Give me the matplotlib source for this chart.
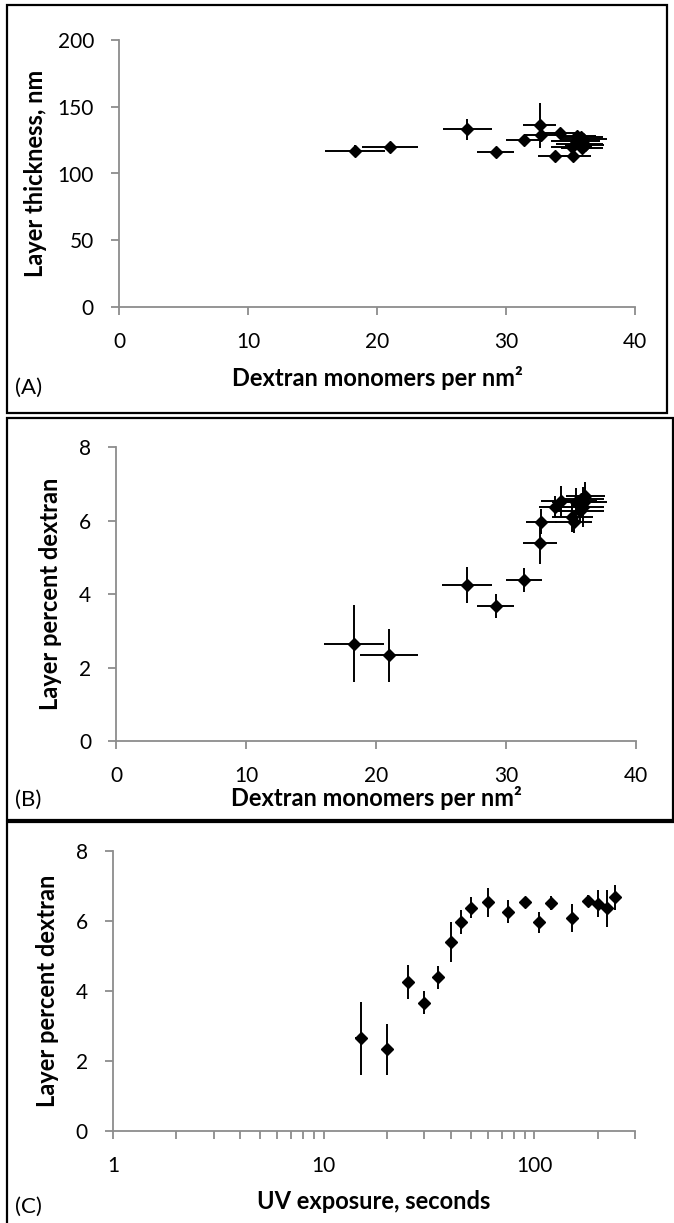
import matplotlib
matplotlib.use("Agg")
import matplotlib.pyplot as plt
from matplotlib.patches import Rectangle
from matplotlib.ticker import LogLocator, NullFormatter, FixedLocator

plt.rcParams['font.family'] = ['Lato', 'DejaVu Sans']

# UV exposure time (s) and the measured layer properties
uv_time = [15, 20, 25, 30, 35, 40, 45, 50, 60, 75, 90, 105, 120, 150, 180, 200, 220, 240]
uv_err = [1] * 18
dextran = [18.3, 21.0, 27.0, 29.2, 31.4, 32.6, 32.7, 33.8, 34.2, 35.7, 35.5, 35.2,
           36.0, 35.1, 35.8, 35.4, 35.9, 36.1]
dextran_err = [2.3, 2.2, 1.9, 1.45, 1.4, 1.3, 1.2, 1.3, 1.5, 1.8, 1.5, 1.4,
               1.8, 1.6, 1.7, 1.9, 1.6, 1.5]
thickness = [117, 120, 133, 116, 125, 136, 129, 113, 130, 122, 128, 113,
             126, 120, 127, 124, 119, 121]
thickness_err = [4, 3, 8, 3, 3, 17, 5, 4, 4, 3, 4, 4, 4, 3, 3, 4, 3, 3]
pct_dextran = [2.65, 2.33, 4.25, 3.67, 4.39, 5.39, 5.97, 6.38, 6.53, 6.27, 6.53, 5.96,
               6.51, 6.09, 6.58, 6.50, 6.36, 6.68]
pct_err = [1.04, 0.73, 0.49, 0.32, 0.33, 0.57, 0.35, 0.30, 0.41, 0.33, 0.15, 0.29,
           0.20, 0.40, 0.15, 0.38, 0.54, 0.36]

W, H = 674, 1223
fig = plt.figure(figsize=(W / 100, H / 100), dpi=100)


def px_box(l, t, r, b):
    return [l / W, 1 - b / H, (r - l) / W, (b - t) / H]


# panel frames
for (l, t, r, b) in [(7, 5, 667, 413), (7, 418, 673, 820), (7, 822, 680, 1226)]:
    fig.patches.append(Rectangle((l / W, 1 - b / H), (r - l) / W, (b - t) / H,
                                 transform=fig.transFigure, fill=False,
                                 edgecolor="black", linewidth=1.6))

grey = "#8c8c8c"
lab = dict(fontsize=17, fontweight="bold")


def style(ax):
    for s in ["top", "right"]:
        ax.spines[s].set_visible(False)
    for s in ["left", "bottom"]:
        ax.spines[s].set_color(grey)
        ax.spines[s].set_linewidth(1.3)
    ax.tick_params(which="both", direction="out", color=grey, width=1.3,
                   length=6, labelsize=15, pad=12)


def draw(ax, x, y, xe, ye):
    ax.errorbar(x, y, xerr=xe, yerr=ye, fmt="D", color="black", markersize=6,
                elinewidth=1.4, capsize=0, clip_on=False)


# (A)
axA = fig.add_axes(px_box(119, 40, 635, 307))
draw(axA, dextran, thickness, dextran_err, thickness_err)
axA.set_xlim(0, 40)
axA.set_ylim(0, 200)
axA.set_xticks([0, 10, 20, 30, 40])
axA.set_yticks([0, 50, 100, 150, 200])
style(axA)
axA.set_ylabel("Layer thickness, nm", labelpad=8, **lab)
axA.set_xlabel("Dextran monomers per nm²", labelpad=10, **lab)
fig.text(15 / W, 1 - 388 / H, "(A)", fontsize=16, va="center")

# (B)
axB = fig.add_axes(px_box(116, 447, 636, 741))
draw(axB, dextran, pct_dextran, dextran_err, pct_err)
axB.set_xlim(0, 40)
axB.set_ylim(0, 8)
axB.set_xticks([0, 10, 20, 30, 40])
axB.set_yticks([0, 2, 4, 6, 8])
style(axB)
axB.set_ylabel("Layer percent dextran", labelpad=12, **lab)
axB.set_xlabel("Dextran monomers per nm²", labelpad=0, **lab)
fig.text(15 / W, 1 - 800 / H, "(B)", fontsize=16, va="center")

# (C)
axC = fig.add_axes(px_box(113, 851, 635, 1131))
draw(axC, uv_time, pct_dextran, uv_err, pct_err)
axC.set_xscale("log")
axC.set_xlim(1, 300)
axC.set_ylim(0, 8)
axC.set_yticks([0, 2, 4, 6, 8])
axC.xaxis.set_major_locator(FixedLocator([1, 10, 100]))
axC.set_xticklabels(["1", "10", "100"])
axC.xaxis.set_minor_locator(LogLocator(base=10, subs=range(2, 10), numticks=20))
axC.xaxis.set_minor_formatter(NullFormatter())
style(axC)
axC.set_ylabel("Layer percent dextran", labelpad=12, **lab)
axC.set_xlabel("UV exposure, seconds", labelpad=10, **lab)
fig.text(15 / W, 1 - 1207 / H, "(C)", fontsize=16, va="center")

fig.savefig("out.png", dpi=100)
